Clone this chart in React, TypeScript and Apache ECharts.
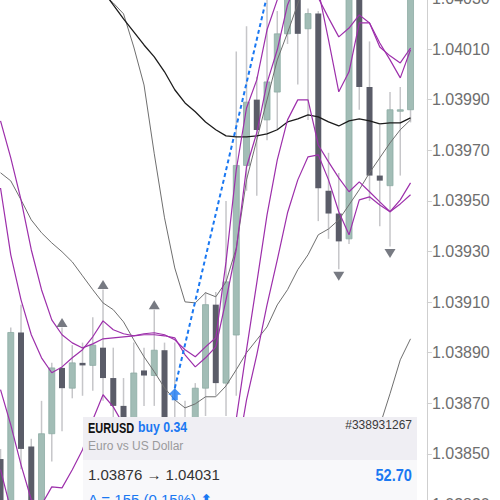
import React, { useEffect, useRef } from 'react';
import * as echarts from 'echarts';

const categories = ['0','1','2','3','4','5','6','7','8','9','10','11','12','13','14','15','16','17','18','19','20','21','22','23','24','25','26','27','28','29','30','31','32','33','34','35','36','37','38','39','40','41'];

const openPrices = [1.03848, 1.03827, 1.03898, 1.03853, 1.03828, 1.03858, 1.03884, 1.03876, 1.03886, 1.03885, 1.03892, 1.03880, 1.03869, 1.03856, 1.03883, 1.03881, 1.03891, 1.03859, 1.03854, 1.03862, 1.03876, 1.03909, 1.03878, 1.03897, 1.03964, 1.03990, 1.03982, 1.03993, 1.04016, 1.04031, 1.04018, 1.04024, 1.03954, 1.03945, 1.03935, 1.04031, 1.03995, 1.03960, 1.03956, 1.03986, 1.03986];
const closePrices = [1.03827, 1.03898, 1.03852, 1.03826, 1.03858, 1.03884, 1.03876, 1.03886, 1.03885, 1.03893, 1.03880, 1.03869, 1.03856, 1.03882, 1.03881, 1.03891, 1.03860, 1.03864, 1.03862, 1.03876, 1.03909, 1.03878, 1.03918, 1.03964, 1.03989, 1.03978, 1.03997, 1.04016, 1.04033, 1.04016, 1.04024, 1.03955, 1.03945, 1.03934, 1.04031, 1.03995, 1.03960, 1.03958, 1.03986, 1.03986, 1.04033];
const lowPrices = [1.03822, 1.03822, 1.03844, 1.03820, 1.03822, 1.03847, 1.03859, 1.03872, 1.03873, 1.03875, 1.03871, 1.03860, 1.03850, 1.03854, 1.03869, 1.03869, 1.03854, 1.03852, 1.03850, 1.03856, 1.03865, 1.03873, 1.03865, 1.03873, 1.03954, 1.03952, 1.03974, 1.03978, 1.04012, 1.03996, 1.03982, 1.03942, 1.03935, 1.03923, 1.03933, 1.03986, 1.03950, 1.03940, 1.03932, 1.03960, 1.03981];
const highPrices = [1.03852, 1.03900, 1.03909, 1.03856, 1.03871, 1.03886, 1.03900, 1.03893, 1.03894, 1.03904, 1.03915, 1.03892, 1.03880, 1.03894, 1.03892, 1.03907, 1.03894, 1.03894, 1.03871, 1.03878, 1.03914, 1.03914, 1.03950, 1.04009, 1.04019, 1.03999, 1.04032, 1.04025, 1.04037, 1.04035, 1.04026, 1.04025, 1.03969, 1.03961, 1.04033, 1.04033, 1.04013, 1.03980, 1.03993, 1.03995, 1.04035];

const maSlow = [1.040855, 1.040804, 1.040748, 1.040697, 1.040642, 1.040590, 1.040539, 1.040488, 1.040432, 1.040381, 1.040330, 1.040274, 1.040219, 1.040168, 1.040116, 1.040069, 1.040010, 1.039939, 1.039887, 1.039852, 1.039812, 1.039781, 1.039757, 1.039753, 1.039753, 1.039757, 1.039765, 1.039781, 1.039812, 1.039824, 1.039840, 1.039832, 1.039812, 1.039796, 1.039816, 1.039824, 1.039816, 1.039804, 1.039808, 1.039808, 1.039828];
const bbUpper = [1.040887, 1.040847, 1.040808, 1.040768, 1.040729, 1.040669, 1.040610, 1.040539, 1.040472, 1.040393, 1.040318, 1.040282, 1.040239, 1.040108, 1.039958, 1.039686, 1.039433, 1.039235, 1.039101, 1.039097, 1.039137, 1.039121, 1.039180, 1.039314, 1.039583, 1.039741, 1.039899, 1.040057, 1.040164, 1.040278, 1.040393, 1.040511, 1.040590, 1.040650, 1.040689, 1.040729, 1.040729, 1.040729, 1.040721, 1.040709, 1.040689];
const bbMiddle = [1.039611, 1.039579, 1.039504, 1.039425, 1.039374, 1.039334, 1.039299, 1.039259, 1.039204, 1.039149, 1.039097, 1.039070, 1.039022, 1.038951, 1.038884, 1.038825, 1.038761, 1.038714, 1.038682, 1.038698, 1.038726, 1.038726, 1.038769, 1.038833, 1.038900, 1.038951, 1.039002, 1.039089, 1.039149, 1.039228, 1.039287, 1.039366, 1.039389, 1.039425, 1.039484, 1.039544, 1.039611, 1.039670, 1.039729, 1.039781, 1.039820];
const bbLower = [1.038299, 1.038280, 1.038201, 1.038082, 1.038019, 1.037999, 1.037987, 1.037979, 1.037936, 1.037904, 1.037877, 1.037857, 1.037806, 1.037794, 1.037809, 1.037964, 1.038090, 1.038193, 1.038264, 1.038299, 1.038315, 1.038331, 1.038359, 1.038351, 1.038216, 1.038161, 1.038106, 1.038122, 1.038133, 1.038177, 1.038181, 1.038220, 1.038189, 1.038201, 1.038280, 1.038359, 1.038493, 1.038611, 1.038738, 1.038872, 1.038955];

const envUpperA = [1.039551, 1.039287, 1.039109, 1.038971, 1.038880, 1.038821, 1.038844, 1.038880, 1.038912, 1.038963, 1.039026, 1.038991, 1.038975, 1.038967, 1.038975, 1.038979, 1.038971, 1.038951, 1.038912, 1.038884, 1.038923, 1.038959, 1.039259, 1.039623, 1.039867, 1.039978, 1.040176, 1.040294, 1.040413, 1.040472, 1.040413, 1.040302, 1.040223, 1.040148, 1.040183, 1.040235, 1.040203, 1.040124, 1.040057, 1.039986, 1.040097];
const envUpperB = [1.039816, 1.039670, 1.039504, 1.039307, 1.039149, 1.039030, 1.038971, 1.038939, 1.038919, 1.038935, 1.038955, 1.038959, 1.038963, 1.038967, 1.038971, 1.038971, 1.038967, 1.038959, 1.038892, 1.038844, 1.038880, 1.038923, 1.039109, 1.039307, 1.039634, 1.039769, 1.039966, 1.040097, 1.040274, 1.040373, 1.040413, 1.040334, 1.040136, 1.039931, 1.040010, 1.040203, 1.040203, 1.040108, 1.040073, 1.040045, 1.040104];
const envLowerA = [1.038754, 1.038615, 1.038457, 1.038319, 1.038299, 1.038370, 1.038366, 1.038438, 1.038517, 1.038635, 1.038734, 1.038686, 1.038615, 1.038556, 1.038497, 1.038477, 1.038438, 1.038398, 1.038359, 1.038339, 1.038359, 1.038398, 1.038438, 1.038639, 1.038912, 1.039176, 1.039445, 1.039662, 1.039820, 1.039899, 1.039899, 1.039721, 1.039654, 1.039591, 1.039536, 1.039575, 1.039536, 1.039496, 1.039457, 1.039504, 1.039571];
const envLowerB = [1.038438, 1.038280, 1.038161, 1.038082, 1.038043, 1.038082, 1.038141, 1.038201, 1.038280, 1.038359, 1.038438, 1.038398, 1.038319, 1.038280, 1.038240, 1.038220, 1.038201, 1.038181, 1.038161, 1.038161, 1.038181, 1.038220, 1.038280, 1.038477, 1.038714, 1.038892, 1.039089, 1.039267, 1.039453, 1.039583, 1.039674, 1.039682, 1.039583, 1.039457, 1.039366, 1.039504, 1.039516, 1.039484, 1.039457, 1.039488, 1.039524];

const fractalUpIdx = [6, 10, 15];
const fractalDownIdx = [33, 38];

const tradeOpenIdx = 17;
const tradeOpenPrice = 1.03876;
const tradeCloseIdx = 26;
const tradeClosePrice = 1.04031;

const yMin = 1.0383;
const yMax = 1.0403;
const yInterval = 0.0002;

const boxSymbol = 'EURUSD';
const boxSide = 'buy 0.34';
const boxTicket = '#338931267';
const boxDesc = 'Euro vs US Dollar';
const boxPrices = '1.03876 \u2192 1.04031';
const boxProfit = '52.70';
const boxDelta = '\u0394 = 155 (0.15%) \u2B06';

const GREEN = '#a2bdb6';
const GREEN_EDGE = '#8eaca4';
const DARK = '#5a5c68';
const WICK = '#c6c6c9';
const PURPLE = '#9d2fab';
const GRAY = '#6f6f6f';
const BLUE = '#1a78f2';

export default function App() {
  const ref = useRef<HTMLDivElement>(null);

  useEffect(() => {
    if (!ref.current) return;
    const chart = echarts.init(ref.current, undefined, { renderer: 'svg' });

    const candleData = openPrices.map((o, i) => [i, o, closePrices[i], lowPrices[i], highPrices[i]]);
    const tradeLine = categories.map(() => null as number | null);
    tradeLine[tradeOpenIdx] = tradeOpenPrice;
    tradeLine[tradeCloseIdx] = tradeClosePrice;

    const lineSeries = (data: number[], color: string, width: number) => ({
      type: 'line',
      data,
      symbol: 'none',
      showSymbol: false,
      silent: true,
      z: 3,
      lineStyle: { color, width },
    });

    const font = '"Liberation Sans", Arial, sans-serif';

    const option: any = {
      animation: false,
      backgroundColor: '#ffffff',
      grid: { left: -4.6, top: -1.6, width: 430.5, height: 506.2, containLabel: false, outerBoundsMode: 'none' },
      xAxis: {
        type: 'category',
        data: categories,
        boundaryGap: true,
        show: false,
      },
      yAxis: {
        type: 'value',
        position: 'right',
        offset: 1,
        min: yMin,
        max: yMax,
        interval: yInterval,
        axisLine: { show: true, lineStyle: { color: '#cfcfcf', width: 1 } },
        axisTick: { show: true, length: 5, lineStyle: { color: '#cfcfcf' } },
        axisLabel: {
          margin: 5,
          color: '#6e6e6e',
          fontSize: 16,
          fontFamily: font,
          formatter: (v: number) => v.toFixed(5),
        },
        splitLine: { show: false },
      },
      series: [
        {
          type: 'custom',
          clip: true,
          z: 2,
          silent: true,
          data: candleData,
          encode: { x: 0, y: [1, 2, 3, 4] },
          renderItem: (params: any, api: any) => {
            const i = api.value(0);
            const o = api.value(1);
            const c = api.value(2);
            const l = api.value(3);
            const h = api.value(4);
            const pO = api.coord([i, o]);
            const pC = api.coord([i, c]);
            const pL = api.coord([i, l]);
            const pH = api.coord([i, h]);
            const x = pO[0];
            const w = 6;
            const up = c >= o;
            const top = Math.min(pO[1], pC[1]);
            const bh = Math.max(Math.abs(pO[1] - pC[1]), 1.5);
            return {
              type: 'group',
              children: [
                {
                  type: 'line',
                  shape: { x1: x, y1: pH[1], x2: x, y2: pL[1] },
                  style: { stroke: WICK, lineWidth: 1.5 },
                },
                {
                  type: 'rect',
                  shape: { x: x - w / 2, y: top, width: w, height: bh },
                  style: {
                    fill: up ? GREEN : DARK,
                    stroke: up ? GREEN_EDGE : DARK,
                    lineWidth: up ? 0.8 : 0,
                  },
                },
              ],
            };
          },
        },
        lineSeries(bbUpper, GRAY, 1),
        lineSeries(bbMiddle, GRAY, 1),
        lineSeries(bbLower, GRAY, 1),
        lineSeries(maSlow, '#1c1c1c', 1.3),
        lineSeries(envUpperA, PURPLE, 1.2),
        lineSeries(envUpperB, PURPLE, 1.2),
        lineSeries(envLowerA, PURPLE, 1.2),
        lineSeries(envLowerB, PURPLE, 1.2),
        {
          type: 'line',
          data: tradeLine,
          connectNulls: true,
          symbol: 'none',
          showSymbol: false,
          silent: true,
          z: 5,
          lineStyle: { color: BLUE, width: 2, type: [4, 3] },
        },
        {
          type: 'scatter',
          silent: true,
          z: 6,
          data: [[tradeOpenIdx, tradeOpenPrice]],
          symbol: 'path://M6.5,0L13,6.5L9.5,6.5L9.5,12L3.5,12L3.5,6.5L0,6.5Z',
          symbolSize: [13, 12],
          symbolOffset: [0, 6],
          itemStyle: { color: BLUE },
        },
        {
          type: 'scatter',
          silent: true,
          z: 6,
          data: fractalUpIdx.map((i) => [i, highPrices[i]]),
          symbol: 'path://M5,0L10,9L0,9Z',
          symbolSize: [11, 9],
          symbolOffset: [0, -5],
          itemStyle: { color: '#555963' },
        },
        {
          type: 'scatter',
          silent: true,
          z: 6,
          data: fractalDownIdx.map((i) => [i, lowPrices[i]]),
          symbol: 'path://M0,0L10,0L5,9Z',
          symbolSize: [11, 9],
          symbolOffset: [0, 7],
          itemStyle: { color: '#555963' },
        },
      ],
      graphic: [
        { type: 'rect', z: 100, shape: { x: 83, y: 417, width: 334, height: 43 }, style: { fill: '#efeef3' } },
        { type: 'rect', z: 100, shape: { x: 83, y: 460, width: 334, height: 45 }, style: { fill: '#f8f8fa' } },
        {
          type: 'text', z: 101, x: 88, y: 420, scaleX: 0.73,
          style: { text: boxSymbol, font: `bold 15px ${font}`, fill: '#111111', textAlign: 'left', textVerticalAlign: 'top' },
        },
        {
          type: 'text', z: 101, x: 138, y: 420, scaleX: 0.82,
          style: { text: boxSide, font: `bold 15px ${font}`, fill: BLUE, textAlign: 'left', textVerticalAlign: 'top' },
        },
        {
          type: 'text', z: 101, x: 412, y: 419,
          style: { text: boxTicket, font: `12px ${font}`, fill: '#3a3a3a', textAlign: 'right', textVerticalAlign: 'top' },
        },
        {
          type: 'text', z: 101, x: 88, y: 440,
          style: { text: boxDesc, font: `12px ${font}`, fill: '#9a9a9c', textAlign: 'left', textVerticalAlign: 'top' },
        },
        {
          type: 'text', z: 101, x: 88, y: 467,
          style: { text: boxPrices, font: `15px ${font}`, fill: '#333333', textAlign: 'left', textVerticalAlign: 'top' },
        },
        {
          type: 'text', z: 101, x: 412, y: 467, scaleX: 0.86,
          style: { text: boxProfit, font: `bold 17px ${font}`, fill: BLUE, textAlign: 'right', textVerticalAlign: 'top' },
        },
        {
          type: 'text', z: 101, x: 88, y: 492,
          style: { text: boxDelta, font: `15px ${font}`, fill: BLUE, textAlign: 'left', textVerticalAlign: 'top' },
        },
      ],
    };

    chart.setOption(option);
    return () => chart.dispose();
  }, []);

  return (
    <div
      ref={ref}
      style={{ position: 'fixed', left: 0, top: 0, width: 500, height: 500, background: '#ffffff' }}
    />
  );
}
